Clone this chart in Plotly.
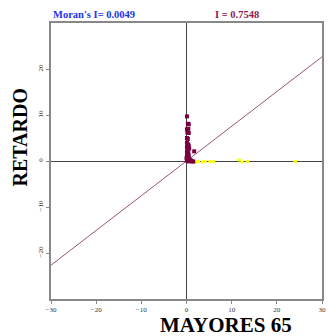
import plotly.graph_objects as go

# Moran scatterplot: standardized variable vs. its spatial lag
moran_global = 0.0049
moran_slope = 0.7548

# High-High cluster (maroon)
hh_x = [0.1, 0.3, 0.5, 0.4, 0.1, 0.2, 0.5, 0.1, 0.3, 0.1, 0.4, 0.2, 0.5, 0.1, 0.3,
        0.6, 1.7, 0.2, 0.1, 0.4, 0.2, 0.5, 0.1, 0.3, 0.6, 0.2, 0.8, 1.2, 1.5, 0.1, 0.4,
        0.0, 0.2, 0.7, 1.0]
hh_y = [9.7, 8.1, 8.0, 7.0, 6.9, 6.2, 6.1, 5.0, 4.8, 4.0, 3.6, 3.4, 3.2, 3.0, 2.8,
        2.7, 2.1, 2.4, 2.0, 1.8, 1.5, 1.2, 1.0, 0.8, 0.5, 0.3, 0.2, -0.1, -0.1, 0.1, -0.1,
        0.6, 1.3, 0.0, 0.1]

# High-Low points (yellow)
hl_x = [2.0, 2.6, 3.5, 4.1, 5.2, 6.0, 11.7, 12.3, 13.5, 24.1]
hl_y = [-0.2, -0.1, -0.2, -0.1, -0.1, -0.1, 0.2, -0.2, -0.1, -0.1]

axis_range = [-30, 30]
x_ticks = [-30, -20, -10, 0, 10, 20, 30]
y_ticks = [-20, -10, 0, 10, 20]

fig = go.Figure()

# Regression line through origin with slope I
fig.add_trace(go.Scatter(
    x=axis_range, y=[moran_slope * v for v in axis_range],
    mode="lines", line=dict(color="#a0507a", width=1), hoverinfo="skip"))

fig.add_trace(go.Scatter(
    x=hl_x, y=hl_y, mode="markers",
    marker=dict(color="#ffff00", size=3.5, symbol="circle")))

fig.add_trace(go.Scatter(
    x=hh_x, y=hh_y, mode="markers",
    marker=dict(color="#7a0040", size=4, symbol="square")))

serif = "Liberation Serif"

fig.update_layout(
    width=328, height=336,
    margin=dict(l=51, r=2, t=23, b=37),
    paper_bgcolor="white", plot_bgcolor="white",
    showlegend=False,
    font=dict(family=serif, size=8, color="#333"),
    xaxis=dict(range=axis_range, tickvals=x_ticks, showgrid=False,
               zeroline=True, zerolinecolor="#444", zerolinewidth=1,
               showline=True, linecolor="#888", linewidth=2, mirror=True,
               ticks="outside", ticklen=3, tickcolor="#888",
               tickfont=dict(size=7, family=serif)),
    yaxis=dict(range=axis_range, tickvals=y_ticks, showgrid=False,
               zeroline=True, zerolinecolor="#444", zerolinewidth=1,
               showline=True, linecolor="#888", linewidth=2, mirror=True,
               ticks="outside", ticklen=3, tickcolor="#888", tickangle=-90,
               tickfont=dict(size=7, family=serif)),
    annotations=[
        dict(text="<b>Moran's I= %.4f</b>" % moran_global, xref="paper", yref="paper",
             x=0.0, y=1.0, xanchor="left", yanchor="bottom", yshift=1, showarrow=False,
             font=dict(family=serif, size=10.5, color="#2233ee")),
        dict(text="<b>I = %.4f</b>" % moran_slope, xref="paper", yref="paper",
             x=0.687, y=1.0, xanchor="center", yanchor="bottom", yshift=1, showarrow=False,
             font=dict(family=serif, size=10.5, color="#902050")),
        dict(text="<b>MAYORES 65</b>", xref="paper", yref="paper",
             x=0.647, y=0, xanchor="center", yanchor="top", yshift=-12, showarrow=False,
             font=dict(family=serif, size=21, color="black")),
        dict(text="<b>RETARDO</b>", xref="paper", yref="paper",
             x=0, y=0.585, xanchor="right", yanchor="middle", xshift=-18, textangle=-90,
             showarrow=False, font=dict(family=serif, size=20, color="black")),
    ],
)

fig.write_html("out.html")
